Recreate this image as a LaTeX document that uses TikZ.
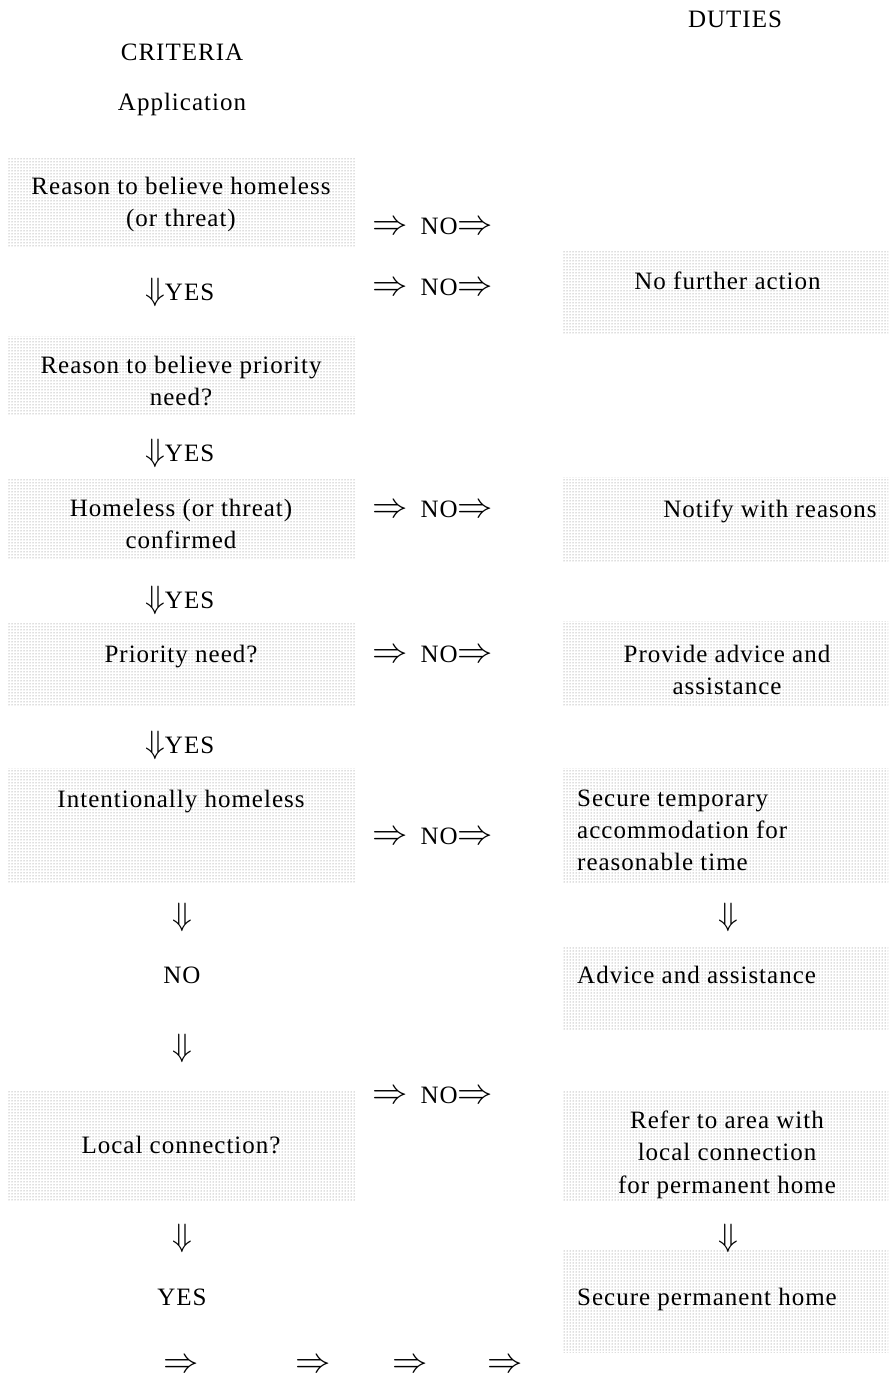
\documentclass[tikz,border=0pt]{standalone}
\usepackage{fontspec}
\usepackage{graphicx}
\setmainfont{Liberation Serif}[LetterSpace=4]
\usetikzlibrary{patterns}
\newcommand\myRA{\scalebox{1.42}{$\Rightarrow$}}
\newcommand\myDA{\scalebox{1.3}{$\Downarrow$}}
\tikzset{
  shadebox/.style={draw=none, pattern=dots, pattern color=black!55, inner sep=0pt, outer sep=0pt},
  lbox/.style={shadebox, minimum width=347pt},
  rbox/.style={shadebox, minimum width=326pt},
  txt/.style={font=\fontsize{25}{32}\selectfont, inner sep=0pt, anchor=base},
  ltxt/.style={txt, align=left, anchor=base west},
  ctxt/.style={txt, align=center},
  arr/.style={font=\fontsize{25}{32}\selectfont, inner sep=0pt},
}
\begin{document}
\begin{tikzpicture}[x=1pt, y=-1pt]
\useasboundingbox (0,0) rectangle (888,1380);
% left boxes
\node[lbox, minimum height=89pt]  (b1) at (181.5,202.5) {};
\node[lbox, minimum height=78pt]  (b2) at (181.5,375) {};
\node[lbox, minimum height=81pt]  (b3) at (181.5,518.5) {};
\node[lbox, minimum height=83pt]  (b4) at (181.5,664.5) {};
\node[lbox, minimum height=114pt] (b5) at (181.5,825) {};
\node[lbox, minimum height=110pt] (b6) at (181.5,1145) {};
% right boxes
\node[rbox, minimum height=83pt]  (r1) at (725,291.5) {};
\node[rbox, minimum height=84pt]  (r2) at (725,519) {};
\node[rbox, minimum height=85pt]  (r3) at (725,663.5) {};
\node[rbox, minimum height=115pt] (r4) at (725,825.5) {};
\node[rbox, minimum height=83pt]  (r5) at (725,988.5) {};
\node[rbox, minimum height=110pt] (r6) at (725,1145) {};
\node[rbox, minimum height=102pt] (r7) at (725,1301) {};
% headers
\node[ctxt] (hduties) at (735,28) {DUTIES};
\node[ctxt] (hcrit) at (182,61) {CRITERIA};
\node[ctxt] (happ) at (182,111) {Application};
% left texts (base = last line)
\node[ctxt] (t1) at (181,226) {Reason to believe homeless\\(or threat)};
\node[ctxt] (t2) at (181,405) {Reason to believe priority\\need?};
\node[ctxt] (t3) at (181,548) {Homeless (or threat)\\confirmed};
\node[ctxt] (t4) at (181,662) {Priority need?};
\node[ctxt] (t5) at (181,807) {Intentionally homeless};
\node[ctxt] (tno) at (182,983) {NO};
\node[ctxt] (t6) at (181,1153) {Local connection?};
\node[ctxt] (tyes) at (182,1305) {YES};
% right texts
\node[ctxt] (n1) at (727.5,289) {No further action};
\node[ctxt] (n2) at (770,517) {Notify with reasons};
\node[ctxt] (n3) at (727,694) {Provide advice and\\assistance};
\node[ltxt] (n4) at (577,870) {Secure temporary\\accommodation for\\reasonable time};
\node[ltxt] (n5) at (577,983) {Advice and assistance};
\node[ctxt, font=\fontsize{25}{32.5}\selectfont] (n6) at (727,1193) {Refer to area with\\local connection\\for permanent home};
\node[ltxt] (n7) at (577,1305) {Secure permanent home};
% NO arrows
\foreach \yy [count=\i] in {235,295,517,662,844,1103}
  \node[arr, anchor=base west] (no\i) at (372,\yy) {\myRA\hspace{13pt}NO\myRA};
% YES arrows
\foreach \yy [count=\i] in {300,461,608,753}
  \node[arr, anchor=base west] (yes\i) at (145,\yy) {\myDA YES};
% plain down arrows
\node[arr] (dl1) at (182,917) {\myDA};
\node[arr] (dl2) at (182,1048) {\myDA};
\node[arr] (dl3) at (182,1238) {\myDA};
\node[arr] (dr1) at (728,917) {\myDA};
\node[arr] (dr2) at (728,1238) {\myDA};
% bottom arrows
\node[arr] (ba1) at (181,1366) {\myRA};
\node[arr] (ba2) at (313,1366) {\myRA};
\node[arr] (ba3) at (410,1366) {\myRA};
\node[arr] (ba4) at (505,1366) {\myRA};
\end{tikzpicture}
\end{document}
